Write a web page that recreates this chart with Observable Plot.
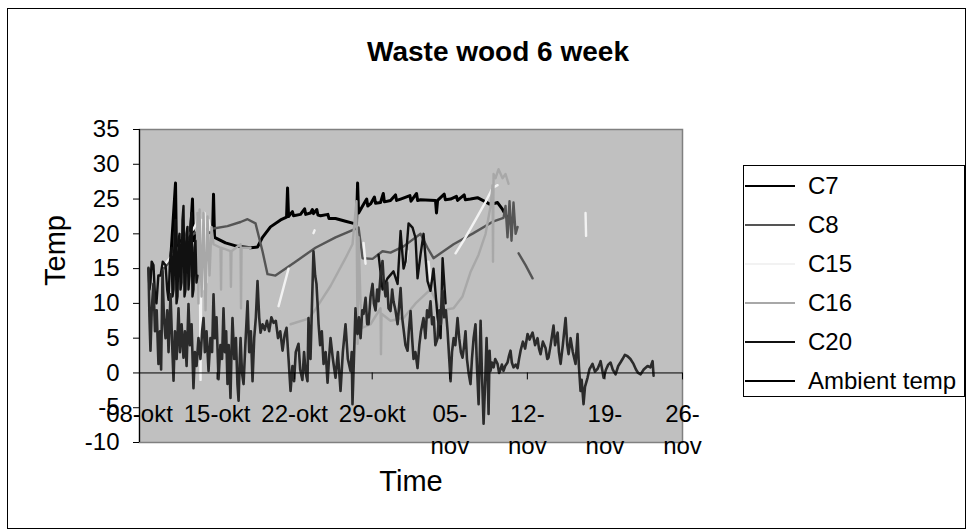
<!DOCTYPE html>
<html>
<head>
<meta charset="utf-8">
<script src="https://cdn.jsdelivr.net/npm/d3@7"></script>
<script src="https://cdn.jsdelivr.net/npm/@observablehq/plot@0.6"></script>
<style>
  html, body { margin: 0; padding: 0; background: #fff; }
  #chart { position: relative; width: 969px; height: 532px; font-family: "Liberation Sans", Arial, sans-serif; overflow: hidden; }
  #chart svg { position: absolute; left: 0; top: 0; }
  #border { position: absolute; left: 7px; top: 8px; width: 959px; height: 521px; border: 1px solid #000; box-sizing: border-box; pointer-events: none; }
  #title { position: absolute; left: 98px; width: 800px; top: 34px; text-align: center; font-weight: bold; font-size: 28px; line-height: 36px; color: #000; }
  #legend { position: absolute; left: 743px; top: 165px; width: 222px; height: 232px; border: 1px solid #000; box-sizing: border-box; background: #fff; }
  .row { position: absolute; left: 0; height: 30px; width: 100%; }
  .row svg { position: absolute; left: 9px; top: 0; }
  .row span { position: absolute; left: 64px; top: 0; line-height: 30px; font-size: 24px; color: #000; white-space: nowrap; }
</style>
</head>
<body>
<div id="chart">
  <div id="border"></div>
  <div id="title"></div>
  <div id="legend"></div>
</div>
<script>
// ---- Data (x = days after 08-okt, y = temperature °C) ----
const titleText = "Waste wood 6 week";
const xLabel = "Time";
const yLabel = "Temp";
const tickDays = [0, 7, 14, 21, 28, 35, 42, 49];
const tickLabels = ["08-okt", "15-okt", "22-okt", "29-okt", "05-\nnov", "12-\nnov", "19-\nnov", "26-\nnov"];
const yTicks = [-10, -5, 0, 5, 10, 15, 20, 25, 30, 35];
const seriesNames = ["C7", "C8", "C15", "C16", "C20", "Ambient temp"];
const seriesColors = ["#000000", "#555555", "#f2f2f2", "#a8a8a8", "#111111", "#2b2b2b"];

const c7 = [[2.80,16],[3.25,27.3],[3.34,17],[3.70,19],[4.15,15],[4.60,20],[4.78,25],[4.87,19],[5.51,21],[5.96,20.5],[6.59,20],[6.68,25.7],[6.77,19.5],[7.76,18.7],[8.84,18.2],[10.02,18],[10.65,18.1],[11.10,19.5],[11.82,21],[12.73,22],[13.27,22.4],[13.36,26.6],[13.45,22.5],[13.8,23.2],[13.9,22.6],[14.53,22.8],[14.9,23.6],[15.0,22.8],[15.43,23],[15.6,23.5],[15.7,22.9],[16.0,23.5],[16.1,22.7],[16.34,22.6],[17.0,22.8],[17.1,22.2],[17.69,22.2],[18.59,21.8],[19.31,21.5],[19.58,21.4],[19.68,27.3],[19.77,23],[20.13,24],[20.5,25],[20.6,24],[20.85,24.3],[21.2,25.3],[21.3,24.4],[21.75,24.5],[22.0,25.8],[22.1,24.6],[22.65,24.8],[23.1,25.6],[23.2,24.8],[23.56,25],[24.4,25.5],[24.5,24.7],[25.0,25.8],[25.1,24.8],[25.36,24.9],[26.71,24.8],[26.80,23],[26.90,24.8],[27.5,25.7],[27.6,24.9],[28.07,25],[28.6,25.4],[28.7,24.8],[29.3,25.6],[29.4,24.9],[29.87,25],[30.5,25.2],[31.23,24.6],[31.68,24.2],[32.31,24.5],[32.76,23.5],[33.30,22]];

const c8 = [[2.17,15],[3.52,17.5],[4.87,20],[5.51,20.5],[6.41,20.7],[7.94,21.1],[9.12,21.7],[9.75,22.1],[10.47,21.5],[11.10,17.5],[11.55,14.2],[12.27,14],[14.08,16],[15.88,18],[17.69,19.5],[19.49,20.7],[19.77,20.9],[20.13,16.5],[21.03,16.4],[21.93,17.5],[22.65,17.3],[23.83,18.2],[25.36,20],[25.99,18],[26.53,16.5],[28.34,18.5],[30.14,20.1],[31.95,21.8],[32.85,22.3],[33.03,24],[33.21,19.5],[33.39,24.7],[33.57,19],[33.75,24.5],[33.94,20],[34.12,21],[34.15,null],[34.21,17.2],[34.84,15.5],[35.47,13.6]];

const c15 = [[2.17,15.4],[2.80,16.6],[3.52,18],[4.15,19.4],[4.87,20.7],[5.14,21.5],[5.23,22.5],[5.32,14],[5.42,22.8],[5.51,-1],[5.60,22],[5.69,12],[5.87,23],[6.05,13],[6.23,22],[6.41,20.5],[6.5,null],[12.55,9.6],[13.0,12.3],[13.45,15],[13.5,null],[15.70,20.1],[15.8,20.5],[15.9,null],[20.22,18.7],[20.40,15.7],[20.5,null],[24.01,15.7],[24.19,17.5],[24.3,null],[26.08,16],[26.26,13.2],[26.4,null],[28.52,17.2],[29.42,19.5],[30.32,22],[31.23,24.6],[31.86,26.6],[32.31,27],[32.4,null],[40.25,23],[40.3,19.7]];

const c16 = [[5.14,14],[5.23,23],[5.32,10],[5.42,23.5],[5.60,11],[5.78,23],[5.96,9],[6.14,22.5],[6.32,14],[6.50,21],[6.68,18.5],[7.31,18],[7.36,12],[7.40,18],[8.21,17.5],[8.25,12.4],[8.30,17.5],[9.12,18.5],[9.16,9.3],[9.21,18],[10.02,18],[10.1,null],[13.63,7],[15.25,7.8],[15.61,8.5],[17.24,12.5],[18.59,16.5],[19.22,18.5],[19.58,24.7],[19.68,4.2],[19.77,19.5],[19.95,10],[20.13,6.5],[20.85,7],[21.75,9.3],[21.79,2.7],[21.84,8.5],[22.65,7.5],[23.83,7.9],[24.91,10],[26.26,12],[27.17,9],[28.34,9.3],[29.15,11],[29.87,14.5],[30.60,17],[31.23,20],[31.68,24],[31.86,27],[31.90,16],[31.95,28.6],[32.13,28],[32.40,29.3],[32.76,28],[33.03,28.6],[33.30,27.2]];

const c20 = [[0.81,15],[0.9,12],[0.99,13],[1.1,16],[1.26,15.5],[1.4,11],[1.53,10],[1.7,14],[1.90,14],[2.1,16],[2.35,15.5],[2.5,12],[2.62,10.5],[2.75,16],[2.89,18],[2.98,11],[3.07,12],[3.16,20],[3.25,22],[3.34,10],[3.43,11],[3.52,19],[3.61,20],[3.7,12],[3.79,13],[3.88,22],[3.97,24],[4.06,11],[4.15,12],[4.24,20],[4.33,21],[4.42,12],[4.51,14],[4.6,21],[4.69,23],[4.78,11],[4.87,12],[4.96,18],[5.05,19],[5.14,13],[5.23,14],[5.3,null],[21.57,17],[21.93,12],[22.38,13.6],[22.92,14.6],[23.29,12.8],[23.56,20.4],[23.83,15],[24.01,16],[24.28,21.5],[24.64,20.9],[24.91,19.4],[25.09,13.6],[25.36,17],[25.63,20],[25.99,13.2],[26.26,11.8],[26.53,15],[26.90,8],[27.17,5],[27.35,16.5],[27.62,10]];

const ambient = [[0.81,15.1],[0.9,8],[0.99,3.2],[1.1,9],[1.26,12.8],[1.4,6],[1.55,9],[1.71,1.3],[1.85,6],[1.95,0.5],[2.08,14.7],[2.2,8],[2.35,5],[2.5,9],[2.62,3],[2.8,11.3],[2.95,4],[3.07,-1.1],[3.2,6],[3.35,2],[3.52,9.3],[3.65,3],[3.8,7],[3.97,2.2],[4.1,6],[4.25,1],[4.42,9.9],[4.55,4],[4.7,7],[4.87,-2.2],[5.0,3],[5.15,1],[5.32,5],[5.5,2],[5.65,6],[5.78,7.9],[5.9,3],[6.05,6],[6.23,0.3],[6.4,5],[6.55,3],[6.68,11.3],[6.8,5],[6.95,8],[7.13,-0.9],[7.3,4],[7.45,2],[7.58,9.3],[7.7,3],[7.82,6],[7.94,-1.6],[8.05,4],[8.21,-3.6],[8.3,3],[8.39,7.9],[8.55,2],[8.7,5],[8.84,-1.6],[8.94,-4],[9.05,2],[9.12,5],[9.25,0],[9.39,-1.6],[9.55,4],[9.75,10.3],[9.9,3],[10.05,6],[10.2,-1.2],[10.35,5],[10.5,8],[10.65,13.2],[10.8,8],[10.92,5.8],[11.1,7],[11.3,6.2],[11.5,7.5],[11.7,6],[11.9,8],[12.1,7.2],[12.3,7.5],[12.5,5],[12.7,6],[12.91,3.2],[13.1,5.5],[13.27,6.5],[13.45,2],[13.63,-2.6],[13.8,1],[13.95,-1.2],[14.1,3],[14.35,4.2],[14.5,0.5],[14.7,-1],[14.85,3],[15.0,0],[15.16,-1.2],[15.25,7.9],[15.35,4],[15.43,2],[15.55,9],[15.7,17.5],[15.85,14],[15.97,12.8],[16.1,9],[16.16,7],[16.3,4],[16.45,6],[16.61,1.3],[16.8,3],[16.97,-1.4],[17.1,2],[17.24,5],[17.45,2],[17.69,-0.7],[17.9,3],[18.14,-2.6],[18.35,3],[18.59,7],[18.8,2],[19.04,0.3],[19.15,3],[19.22,-4.5],[19.35,2],[19.49,9.3],[19.6,6],[19.68,5.6],[19.8,8],[19.95,5],[20.1,9],[20.22,8.5],[20.4,10.8],[20.55,7],[20.67,7],[20.85,11],[21.03,12.8],[21.15,10],[21.3,9],[21.45,12],[21.57,10.3],[21.75,14],[21.93,16.1],[22.05,13],[22.2,11],[22.35,13],[22.47,9.3],[22.65,8.9],[22.8,12],[22.92,10.3],[23.1,9],[23.29,7],[23.45,10],[23.56,12.2],[23.7,8],[23.85,6],[24.0,4],[24.19,3.2],[24.3,6],[24.46,8.9],[24.6,5],[24.73,2],[24.9,3],[25.09,0.7],[25.25,4],[25.4,6],[25.63,7.9],[25.8,5],[25.95,9],[26.1,8],[26.26,10.3],[26.4,7],[26.55,8],[26.7,4],[26.9,5],[27.05,9],[27.2,7],[27.35,11.8],[27.5,8],[27.65,9],[27.8,6],[27.95,2],[28.07,-1.2],[28.2,3],[28.35,5],[28.5,4],[28.7,7.9],[28.85,5],[29.0,3],[29.15,2.2],[29.3,4],[29.42,6],[29.55,2],[29.7,0],[29.87,-1.6],[30.0,2],[30.15,5],[30.32,7],[30.45,1],[30.6,-4.5],[30.7,2],[30.78,7.5],[30.9,0],[31.05,-7.3],[31.2,-1],[31.32,5],[31.42,0],[31.5,-5.9],[31.59,3.2],[31.68,0.3],[31.8,1.5],[31.95,0.8],[32.1,2],[32.31,1.3],[32.45,0],[32.58,0.5],[32.7,1.2],[32.85,0.3],[33.0,1],[33.21,1.5],[33.35,2.5],[33.48,3.2],[33.6,1.5],[33.75,0.8],[33.95,1.2],[34.12,0.7],[34.25,2],[34.39,3.2],[34.6,4.5],[34.8,3.5],[35.02,5.6],[35.2,4.8],[35.47,5.8],[35.7,4],[35.92,5],[36.05,3.5],[36.19,2.7],[36.4,4.5],[36.64,3.6],[36.8,2],[36.91,2.2],[37.1,4],[37.36,6.8],[37.5,4],[37.73,5.8],[37.85,3],[38.0,1.3],[38.2,4],[38.45,7.9],[38.6,4],[38.72,2.7],[38.9,5],[39.1,3],[39.35,1.3],[39.53,5.6],[39.65,1],[39.8,-2.6],[39.9,-1],[40.07,-4.5],[40.2,-2],[40.43,-0.7],[40.6,0.5],[40.88,1.3],[41.1,0.2],[41.34,0.6],[41.5,1.2],[41.61,1.7],[41.75,0.5],[41.88,-0.7],[42.1,0.5],[42.3,1.2],[42.51,1.5],[42.7,0.5],[42.96,-0.2],[43.2,1],[43.4,1.5],[43.59,2],[43.8,2.6],[44.04,2.4],[44.3,2],[44.58,1.3],[44.8,0.5],[45.0,0],[45.22,-0.2],[45.5,0.5],[45.85,1],[46.1,0.8],[46.3,1.7],[46.39,-0.4]];

const seriesData = [c7, c8, c15, c16, c20, ambient];
const seriesWidths = [3, 2.4, 2.4, 2.4, 2.4, 2.6];

// ---- Chart ----
const lineMarks = seriesData.map((data, i) =>
  Plot.line(data, {
    x: d => d[0],
    y: d => d[1],
    stroke: seriesColors[i],
    strokeWidth: seriesWidths[i],
    strokeLinejoin: "round",
    strokeLinecap: "round"
  })
);

const chart = Plot.plot({
  width: 969,
  height: 532,
  marginLeft: 139,
  marginRight: 287,
  marginTop: 129,
  marginBottom: 90,
  style: { fontFamily: "'Liberation Sans', Arial, sans-serif", fontSize: "24px", background: "transparent", color: "#000", overflow: "visible" },
  x: { domain: [0, 49], axis: null },
  y: { domain: [-10, 35], axis: null },
  marks: [
    Plot.frame({ fill: "#c0c0c0", stroke: "#808080", strokeWidth: 1.5 }),
    ...lineMarks,
    Plot.ruleY([0], { stroke: "#000", strokeWidth: 1 }),
    Plot.ruleX(tickDays, { x: d => d, y1: 0, y2: -1, stroke: "#000", strokeWidth: 1 }),
    Plot.ruleX([0], { stroke: "#000", strokeWidth: 1.2 }),
    Plot.axisY({ ticks: yTicks, tickSize: 6, tickPadding: 14, fontSize: 24, label: null, tickFormat: d => String(d), stroke: "#000" }),
    Plot.text(tickDays, { x: d => d, y: 0, text: (d, i) => tickLabels[i], dy: 26, lineAnchor: "top", lineHeight: 1.33, fontSize: 24, fill: "#000" }),
    Plot.text([yLabel], { frameAnchor: "left", text: d => d, dx: -84, rotate: -90, fontSize: 29, fill: "#000" }),
    Plot.text([xLabel], { frameAnchor: "bottom", text: d => d, dy: 48, fontSize: 29, fill: "#000" })
  ]
});
document.getElementById("chart").insertBefore(chart, document.getElementById("border"));

document.getElementById("title").textContent = titleText;

// ---- Legend ----
const legend = document.getElementById("legend");
seriesNames.forEach((name, i) => {
  const row = document.createElement("div");
  row.className = "row";
  row.style.top = (20 + 39 * i - 15) + "px";
  row.innerHTML = `<svg width="52" height="30"><line x1="1" x2="51" y1="15" y2="15" stroke="${i === 5 ? "#000" : seriesColors[i]}" stroke-width="2"/></svg><span>${name}</span>`;
  legend.appendChild(row);
});
</script>
</body>
</html>
